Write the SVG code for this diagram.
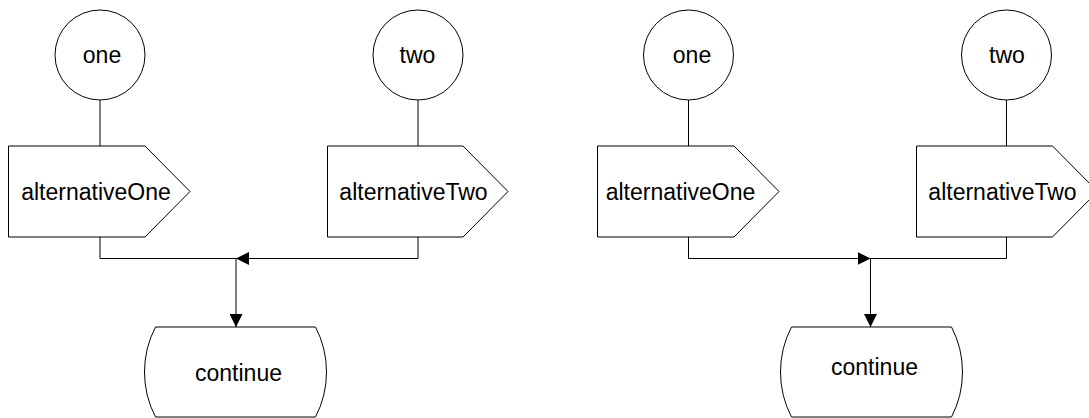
<svg xmlns="http://www.w3.org/2000/svg" width="1089" height="418" viewBox="0 0 1089 418">
<style>
.shape{fill:#fff;stroke:#000;stroke-width:1}
.lbl{font-family:"Liberation Sans",Arial,sans-serif;font-size:23px;fill:#000;text-anchor:middle}
.conn{fill:none;stroke:#000;stroke-width:1}
</style>
<defs>
<marker id="arr" viewBox="0 0 13 13" refX="13" refY="6.5" markerWidth="13" markerHeight="13" markerUnits="userSpaceOnUse" orient="auto">
<path d="M0,0 L13,6.5 L0,13 Z" fill="#000"/>
</marker>
</defs>
<rect width="1089" height="418" fill="#fff"/>
<g id="connectors">
<path class="conn" d="M100,100 V146"/>
<path class="conn" d="M418,100 V146"/>
<path class="conn" d="M100,237 V258.5 H236"/>
<path class="conn" d="M418,237 V258.5 H236" marker-end="url(#arr)"/>
<path class="conn" d="M236,258.5 V327" marker-end="url(#arr)"/>
<path class="conn" d="M688.5,100 V146"/>
<path class="conn" d="M1006.5,100 V146"/>
<path class="conn" d="M688.5,237 V258.5 H870.5" marker-end="url(#arr)"/>
<path class="conn" d="M1006.5,237 V258.5 H870.5"/>
<path class="conn" d="M870.5,258.5 V327" marker-end="url(#arr)"/>
</g>
<g id="one-left">
<circle class="shape" cx="100" cy="55" r="45"/>
<text class="lbl" x="102" y="63">one</text>
</g>
<g id="two-left">
<circle class="shape" cx="418" cy="55" r="45"/>
<text class="lbl" x="417.5" y="63">two</text>
</g>
<g id="alternativeOne-left">
<path class="shape" d="M8.5,146 H145 L190,191.5 L145,237 H8.5 Z"/>
<text class="lbl" x="96" y="200">alternativeOne</text>
</g>
<g id="alternativeTwo-left">
<path class="shape" d="M327.5,146 H463 L508,191.5 L463,237 H327.5 Z"/>
<text class="lbl" x="413.5" y="200">alternativeTwo</text>
</g>
<g id="continue-left">
<path class="shape" d="M155.5,327 H315.5 A97.5,97.5 0 0 1 315.5,417 H155.5 A97.5,97.5 0 0 1 155.5,327 Z"/>
<text class="lbl" x="238.5" y="381">continue</text>
</g>
<g id="one-right">
<circle class="shape" cx="688.5" cy="55" r="45"/>
<text class="lbl" x="692" y="63">one</text>
</g>
<g id="two-right">
<circle class="shape" cx="1006.5" cy="55" r="45"/>
<text class="lbl" x="1007" y="63">two</text>
</g>
<g id="alternativeOne-right">
<path class="shape" d="M597.5,146 H734 L779,191.5 L734,237 H597.5 Z"/>
<text class="lbl" x="680.5" y="200">alternativeOne</text>
</g>
<g id="alternativeTwo-right">
<path class="shape" d="M916.5,146 H1052.5 L1097.5,191.5 L1052.5,237 H916.5 Z"/>
<text class="lbl" x="1002.5" y="200">alternativeTwo</text>
</g>
<g id="continue-right">
<path class="shape" d="M791.5,327 H951.5 A97.5,97.5 0 0 1 951.5,417 H791.5 A97.5,97.5 0 0 1 791.5,327 Z"/>
<text class="lbl" x="874.5" y="375">continue</text>
</g>
</svg>
